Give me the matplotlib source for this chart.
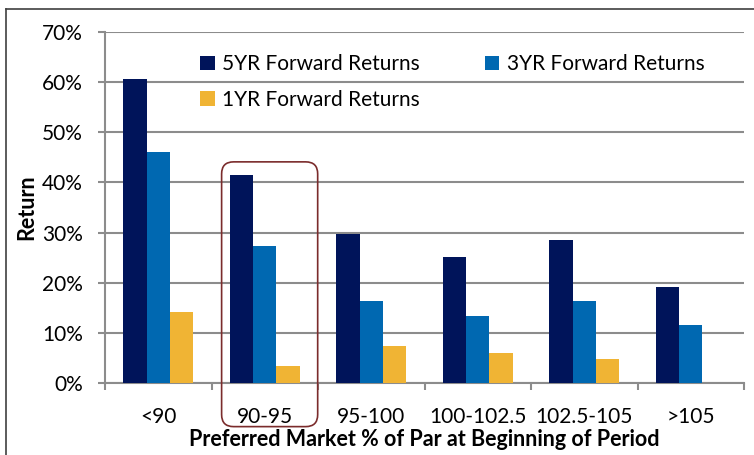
import matplotlib
matplotlib.use("Agg")
import matplotlib.pyplot as plt
import numpy as np
from matplotlib.patches import FancyBboxPatch
from matplotlib.lines import Line2D
from matplotlib.ticker import FuncFormatter, FixedLocator

plt.rcParams['font.family'] = ['Lato', 'DejaVu Sans']

categories = ["<90", "90-95", "95-100", "100-102.5", "102.5-105", ">105"]
ret_5yr = [60.7, 41.5, 29.7, 25.2, 28.5, 19.2]
ret_3yr = [46.1, 27.4, 16.35, 13.4, 16.4, 11.6]
ret_1yr = [14.2, 3.45, 7.4, 6.0, 4.8, np.nan]
y_ticks = [0, 10, 20, 30, 40, 50, 60, 70]
highlight_index = 1

c5, c3, c1 = "#00145A", "#0068B1", "#F0B434"
grid_c = "#8C8C8C"

fig = plt.figure(figsize=(7.54, 4.55), dpi=100)
ax = fig.add_axes([105/754, 1-383/455, (744-105)/754, (383-32)/455])

x = np.arange(len(categories))
w = 0.22
b5 = ax.bar(x - w, ret_5yr, w, color=c5, label="5YR Forward Returns", zorder=3)
b3 = ax.bar(x, ret_3yr, w, color=c3, label="3YR Forward Returns", zorder=3)
b1 = ax.bar(x + w, ret_1yr, w, color=c1, label="1YR Forward Returns", zorder=3)

ax.set_xlim(-0.5, len(categories) - 0.5)
ax.set_ylim(0, 70)
ax.set_yticks(y_ticks)
ax.yaxis.set_major_formatter(FuncFormatter(lambda v, p: f"{v:.0f}%"))
ax.grid(axis='y', color=grid_c, linewidth=1.5, zorder=0)
ax.set_axisbelow(True)

ax.xaxis.set_major_locator(FixedLocator(np.arange(len(categories) + 1) - 0.5))
ax.xaxis.set_minor_locator(FixedLocator(x))
ax.set_xticklabels([], minor=False)
ax.set_xticklabels(categories, minor=True)
ax.tick_params(axis='x', which='major', length=5, width=1.5, color=grid_c)
ax.tick_params(axis='x', which='minor', length=0, pad=17, labelsize=15)
ax.tick_params(axis='y', length=5, width=1.5, color=grid_c, pad=11, labelsize=15)

for s in ['top', 'right']:
    ax.spines[s].set_visible(False)
for s in ['left', 'bottom']:
    ax.spines[s].set_color(grid_c)
    ax.spines[s].set_linewidth(1.5)

ax.set_ylabel("Return", fontsize=15.5, fontweight='bold', labelpad=3)
ax.set_xlabel("Preferred Market % of Par at Beginning of Period", fontsize=15.5,
              fontweight='bold', labelpad=2)

handles = [b5, b1, b3]
labels = [h.get_label() for h in handles]
leg = ax.legend(handles, labels, ncol=2, loc='upper left', bbox_to_anchor=(0.12, 0.99),
                frameon=False, fontsize=15, handlelength=0.7, handleheight=0.7,
                handletextpad=0.35, columnspacing=3.1, labelspacing=0.75)

# highlight box around the 90-95 group
fig.canvas.draw()
tr = ax.transData
x0, y0 = tr.transform((highlight_index - 0.405, -8.7))
x1, y1 = tr.transform((highlight_index + 0.497, 44.1))
box = FancyBboxPatch((x0, y0), x1 - x0, y1 - y0, boxstyle="round,pad=0,rounding_size=12",
                     transform=None, fill=False, edgecolor="#7B2C2C", linewidth=1.2,
                     zorder=5)
fig.patches.append(box)

# outer chart border
fig.add_artist(Line2D([6/754, 6/754], [0, 1 - 9/455], color="#404040", linewidth=1.2,
                      transform=fig.transFigure))
fig.add_artist(Line2D([6/754, 1], [1 - 9/455, 1 - 9/455], color="#404040", linewidth=1.2,
                      transform=fig.transFigure))

fig.savefig("out.png", dpi=100)
